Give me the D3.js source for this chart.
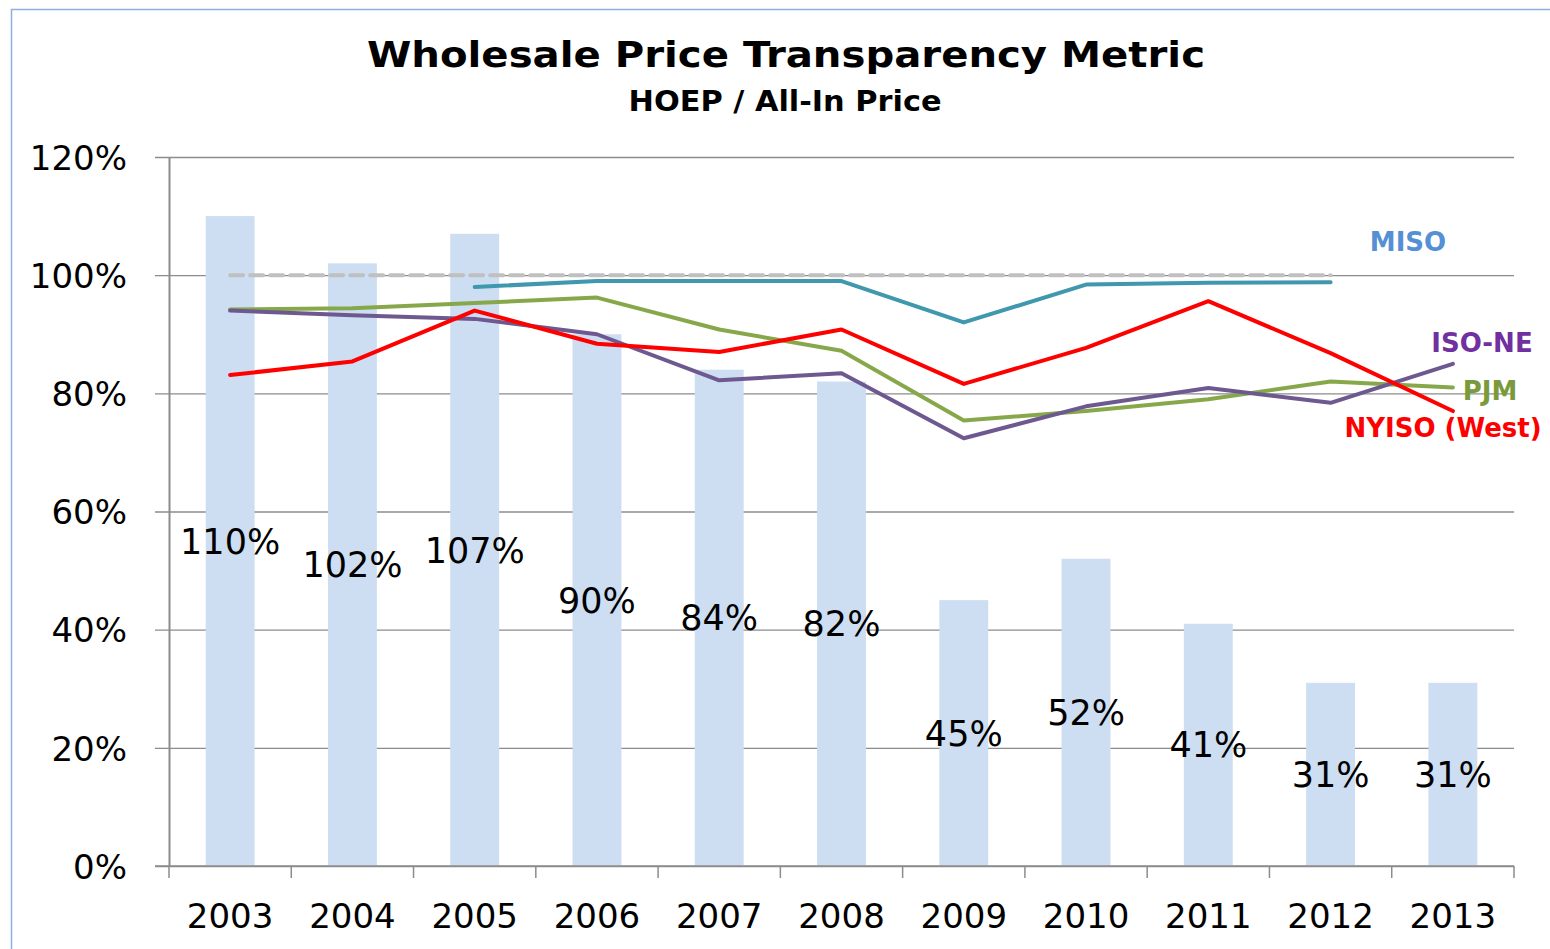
<!DOCTYPE html>
<html>
<head>
<meta charset="utf-8">
<script src="https://cdn.jsdelivr.net/npm/d3@7"></script>
<style>
  body { margin: 0; background: #fff; }
  svg { display: block; font-family: "DejaVu Sans", Verdana, sans-serif; }
</style>
</head>
<body>
<div id="chart"></div>
<script>
var years = ['2003', '2004', '2005', '2006', '2007', '2008', '2009', '2010', '2011', '2012', '2013'];
var hoep = [110, 102, 107, 90, 84, 82, 45, 52, 41, 31, 31];
var miso = [null, null, 98.0, 99.0, 99.0, 99.0, 92.0, 98.4, 98.7, 98.8, null];
var pjm = [94.2, 94.4, 95.3, 96.2, 90.8, 87.2, 75.4, 77.0, 79.0, 82.0, 81.0];
var isone = [94.0, 93.2, 92.6, 90.0, 82.2, 83.4, 72.4, 77.8, 80.9, 78.4, 85.0];
var nyiso = [83.1, 85.4, 94.0, 88.4, 87.0, 90.8, 81.6, 87.7, 95.6, 86.8, 77.0];
var parity = [100, 100, 100, 100, 100, 100, 100, 100, 100, 100, null];
var yTicks = [0, 20, 40, 60, 80, 100, 120];

(function () {
    var W = 1550, H = 949;
    var mLeft = 169, mRight = 1514, mTop = 157, mBottom = 866;

    var svg = d3.select('#chart').append('svg')
        .attr('width', W)
        .attr('height', H);

    // outer frame
    svg.append('path')
        .attr('d', 'M11.5,' + H + 'V9.5H' + W)
        .attr('fill', 'none')
        .attr('stroke', '#8eaedb')
        .attr('stroke-width', 1.5);

    var x = d3.scaleBand().domain(years).range([mLeft, mRight]).paddingInner(0.6).paddingOuter(0.3);
    var xc = function (i) { return x(years[i]) + x.bandwidth() / 2; };
    var y = d3.scaleLinear().domain([0, 120]).range([mBottom, mTop]);

    // title
    svg.append('text')
        .attr('x', 786).attr('y', 67)
        .attr('text-anchor', 'middle')
        .attr('textLength', 838).attr('lengthAdjust', 'spacingAndGlyphs')
        .style('font-weight', 'bold').style('font-size', '36px')
        .text('Wholesale Price Transparency Metric');
    svg.append('text')
        .attr('x', 785).attr('y', 111)
        .attr('text-anchor', 'middle')
        .attr('textLength', 313).attr('lengthAdjust', 'spacingAndGlyphs')
        .style('font-weight', 'bold').style('font-size', '28px')
        .text('HOEP / All-In Price');

    // y axis with gridlines
    var yAxis = d3.axisLeft(y).tickValues(yTicks)
        .tickSize(-(mRight - mLeft)).tickSizeOuter(0)
        .tickFormat(function (d) { return d + '%'; });
    svg.append('g')
        .attr('transform', 'translate(' + mLeft + ',0)')
        .call(function (g) {
            g.call(yAxis);
            g.select('.domain').attr('stroke', '#8c8c8c').attr('stroke-width', 2);
            g.selectAll('.tick line').attr('stroke', '#8c8c8c').attr('stroke-width', 1.3)
                .attr('x1', -14);
            g.selectAll('.tick text').attr('x', -42).attr('dy', '0.36em')
                .attr('fill', '#000').style('font-size', '34px').style('font-family', 'DejaVu Sans');
        });

    // bars
    svg.append('g').selectAll('rect')
        .data(hoep)
        .enter().append('rect')
        .attr('x', function (d, i) { return x(years[i]); })
        .attr('width', x.bandwidth())
        .attr('y', function (d) { return y(d); })
        .attr('height', function (d) { return y(0) - y(d); })
        .attr('fill', '#cddef2');

    // x axis
    var xEdge = d3.scaleLinear().domain([0, years.length]).range([mLeft, mRight]);
    svg.append('line')
        .attr('x1', mLeft - 14).attr('x2', mRight)
        .attr('y1', mBottom).attr('y2', mBottom)
        .attr('stroke', '#8c8c8c').attr('stroke-width', 1.5);
    svg.append('g').selectAll('line')
        .data(d3.range(years.length + 1))
        .enter().append('line')
        .attr('x1', function (d) { return xEdge(d); })
        .attr('x2', function (d) { return xEdge(d); })
        .attr('y1', mBottom).attr('y2', mBottom + 12)
        .attr('stroke', '#8c8c8c').attr('stroke-width', 1.5);
    svg.append('g').selectAll('text')
        .data(years)
        .enter().append('text')
        .attr('x', function (d, i) { return xc(i); })
        .attr('y', 928)
        .attr('text-anchor', 'middle')
        .style('font-size', '34px')
        .text(function (d) { return d; });

    // parity reference line
    var line = d3.line()
        .defined(function (d) { return d != null; })
        .x(function (d, i) { return xc(i); })
        .y(function (d) { return y(d); });

    svg.append('path')
        .datum(parity)
        .attr('d', line)
        .attr('fill', 'none')
        .attr('stroke', '#c0c0c0')
        .attr('stroke-width', 4)
        .attr('stroke-dasharray', '13,7')
        .attr('stroke-linecap', 'round');

    var series = [
        { name: 'MISO', values: miso, color: '#3f98ae', label: '#5590d4', lx: 1408, ly: 251 },
        { name: 'PJM', values: pjm, color: '#87a84a', label: '#7a9a3c', lx: 1490, ly: 400 },
        { name: 'ISO-NE', values: isone, color: '#6e5890', label: '#7030a0', lx: 1482, ly: 352 },
        { name: 'NYISO (West)', values: nyiso, color: '#ff0000', label: '#ff0000', lx: 1443, ly: 437 }
    ];

    series.forEach(function (s) {
        svg.append('path')
            .datum(s.values)
            .attr('d', line)
            .attr('fill', 'none')
            .attr('stroke', s.color)
            .attr('stroke-width', 4)
            .attr('stroke-linejoin', 'round')
            .attr('stroke-linecap', 'round');
    });

    // bar value labels, centred in the bar
    svg.append('g').selectAll('text')
        .data(hoep)
        .enter().append('text')
        .attr('x', function (d, i) { return xc(i); })
        .attr('y', function (d) { return y(d / 2); })
        .attr('dy', '0.36em')
        .attr('text-anchor', 'middle')
        .style('font-size', '35px')
        .text(function (d) { return d + '%'; });

    // series labels
    series.forEach(function (s) {
        svg.append('text')
            .attr('x', s.lx).attr('y', s.ly)
            .attr('text-anchor', 'middle')
            .attr('fill', s.label)
            .style('font-weight', 'bold').style('font-size', '26px')
            .text(s.name);
    });
})();
</script>
</body>
</html>
